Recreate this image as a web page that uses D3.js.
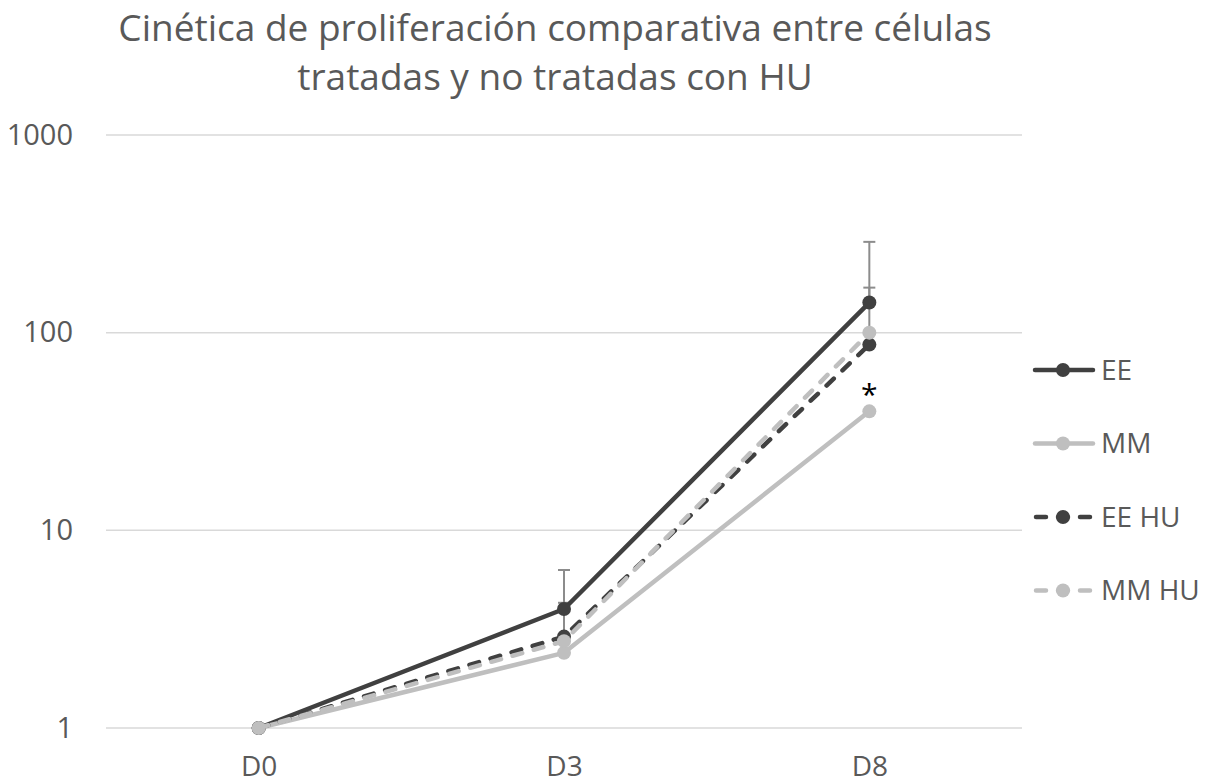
<!DOCTYPE html>
<html>
<head>
<meta charset="utf-8">
<script src="https://cdn.jsdelivr.net/npm/d3@7"></script>
<style>
  body { margin: 0; background: #fff; }
  text { font-family: "Open Sans", sans-serif; }
</style>
</head>
<body>
<div id="chart"></div>
<script>
// Datos
const dias = ["D0", "D3", "D8"];
const series = ["EE", "MM", "EE HU", "MM HU"];
const valoresEE = [1, 4.0, 142];
const valoresMM = [1, 2.4, 40];
const valoresEEHU = [1, 2.9, 87];
const valoresMMHU = [1, 2.75, 100];
// barras de error (solo hacia arriba)
const errorEE = [0, 2.3, 146];
const errorEEHU = [0, 1.4, 82];
const ticksY = [1, 10, 100, 1000];

const WIDTH = 1218;
const HEIGHT = 784;
const MARGIN = { top: 135, bottom: 56, left: 106, right: 196 };

const colores = ["#404040", "#bfbfbf", "#404040", "#bfbfbf"];
const discontinua = [false, false, true, true];

const datos = series.map((s, i) => ({
    nombre: s,
    valores: [valoresEE, valoresMM, valoresEEHU, valoresMMHU][i],
    error: [errorEE, null, errorEEHU, null][i],
    color: colores[i],
    dash: discontinua[i],
}));

const svg = d3.select("#chart")
    .append("svg")
    .attr("width", WIDTH)
    .attr("height", HEIGHT);

const x = d3.scalePoint()
    .domain(dias)
    .range([MARGIN.left, WIDTH - MARGIN.right])
    .padding(0.5);

const y = d3.scaleLog()
    .domain([1, 1000])
    .range([HEIGHT - MARGIN.bottom, MARGIN.top]);

// Titulo
const titulo = svg.append("text")
    .attr("text-anchor", "middle")
    .attr("fill", "#595959")
    .attr("font-size", 37);
titulo.append("tspan").attr("x", 555).attr("y", 41)
    .text("Cinética de proliferación comparativa entre células");
titulo.append("tspan").attr("x", 555).attr("y", 90)
    .text("tratadas y no tratadas con HU");

// Lineas de cuadricula
svg.append("g")
    .selectAll("line")
    .data(ticksY)
    .join("line")
    .attr("x1", MARGIN.left)
    .attr("x2", WIDTH - MARGIN.right)
    .attr("y1", d => y(d))
    .attr("y2", d => y(d))
    .attr("stroke", "#d9d9d9")
    .attr("stroke-width", 1.5);

// Eje Y
const ejeY = d3.axisLeft(y).tickValues(ticksY).tickFormat(d3.format("d")).tickSize(0).tickPadding(33);
svg.append("g")
    .attr("transform", `translate(${MARGIN.left}, 0)`)
    .call(ejeY)
    .call(g => g.select(".domain").remove())
    .selectAll("text")
    .attr("font-size", 29)
    .attr("fill", "#595959")
    .style("font-family", "Open Sans, sans-serif");

// Eje X
const ejeX = d3.axisBottom(x).tickSize(0).tickPadding(28);
svg.append("g")
    .attr("transform", `translate(0, ${HEIGHT - MARGIN.bottom})`)
    .call(ejeX)
    .call(g => g.select(".domain").remove())
    .selectAll("text")
    .attr("font-size", 28)
    .attr("fill", "#595959")
    .style("font-family", "Open Sans, sans-serif");

// Barras de error
datos.filter(d => d.error).forEach(d => {
    const g = svg.append("g").attr("class", "error");
    d.valores.forEach((v, i) => {
        if (!d.error[i]) return;
        const top = y(v + d.error[i]);
        g.append("line")
            .attr("x1", x(dias[i])).attr("x2", x(dias[i]))
            .attr("y1", y(v)).attr("y2", top)
            .attr("stroke", "#8c8c8c").attr("stroke-width", 2);
        g.append("line")
            .attr("x1", x(dias[i]) - 6).attr("x2", x(dias[i]) + 6)
            .attr("y1", top).attr("y2", top)
            .attr("stroke", "#8c8c8c").attr("stroke-width", 2);
    });
});

const linea = d3.line()
    .x((d, i) => x(dias[i]))
    .y(d => y(d));

const grupos = svg.selectAll(".serie")
    .data(datos)
    .join("g")
    .attr("class", "serie");

grupos.append("path")
    .attr("d", d => linea(d.valores))
    .attr("fill", "none")
    .attr("stroke", d => d.color)
    .attr("stroke-width", 4.5)
    .attr("stroke-linecap", "round")
    .attr("stroke-linejoin", "round")
    .attr("stroke-dasharray", d => d.dash ? "10,12" : null);

grupos.selectAll("circle")
    .data(d => d.valores.map(v => ({ v, color: d.color })))
    .join("circle")
    .attr("cx", (d, i) => x(dias[i]))
    .attr("cy", d => y(d.v))
    .attr("r", 7)
    .attr("fill", d => d.color);

// Asterisco de significancia
svg.append("text")
    .attr("x", x("D8"))
    .attr("y", y(valoresMM[2]) - 6)
    .attr("text-anchor", "middle")
    .attr("font-size", 30)
    .attr("fill", "#000")
    .text("*");

// Leyenda
const leyenda = svg.append("g")
    .selectAll("g")
    .data(datos)
    .join("g")
    .attr("transform", (d, i) => `translate(1033, ${370 + i * 73.5})`);

leyenda.append("line")
    .attr("x1", d => d.dash ? 3 : 2)
    .attr("x2", d => d.dash ? 58 : 60)
    .attr("stroke", d => d.color)
    .attr("stroke-width", 4.5)
    .attr("stroke-linecap", "round")
    .attr("stroke-dasharray", d => d.dash ? "10,12" : null);

leyenda.append("circle")
    .attr("cx", 30)
    .attr("r", 7)
    .attr("fill", d => d.color);

leyenda.append("text")
    .attr("x", 68)
    .attr("dy", "0.35em")
    .attr("font-size", 28)
    .attr("fill", "#595959")
    .text(d => d.nombre);
</script>
</body>
</html>
